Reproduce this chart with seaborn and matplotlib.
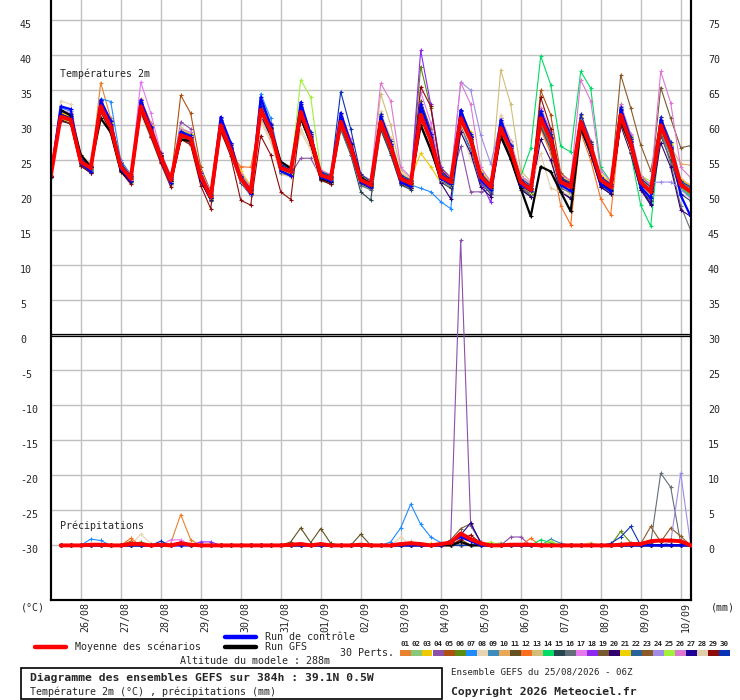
import numpy as np
import pandas as pd
import matplotlib
matplotlib.use("Agg")
import matplotlib.pyplot as plt
import seaborn as sns
from matplotlib.lines import Line2D
from matplotlib.patches import Rectangle

# ---------------- data ----------------
times = pd.date_range("2026-08-25 06:00", periods=65, freq="6h")
day_ticks = pd.date_range("2026-08-26", periods=16, freq="D")
day_labels = ["26/08", "27/08", "28/08", "29/08", "30/08", "31/08", "01/09", "02/09",
              "03/09", "04/09", "05/09", "06/09", "07/09", "08/09", "09/09", "10/09"]

y_ticks = [45, 40, 35, 30, 25, 20, 15, 10, 5, 0, -5, -10, -15, -20, -25, -30]
right_ticks = [75, 70, 65, 60, 55, 50, 45, 40, 35, 30, 25, 20, 15, 10, 5, 0]

member_colors = ["#e8822e", "#88c878", "#f0c800", "#8c50a8", "#b05010", "#5a8c10", "#1e8cff",
                 "#e8d4b0", "#3c8cbe", "#e8a85a", "#645020", "#fa6e1e", "#d2be78", "#00dc64",
                 "#284650", "#646e78", "#e678f0", "#8c28f0", "#785a32", "#32006e", "#f0d200",
                 "#28649a", "#8c5a28", "#a08ce6", "#a0f03c", "#dc78d2", "#1e0096", "#e1cdaa",
                 "#8c0a0a", "#0a32b4"]

mean_t = [22.7, 31.2, 30.8, 24.8, 23.9, 32.7, 29.8, 24.1, 22.4, 32.7, 29.3, 25.5, 22.2, 28.6, 28.1, 22.7, 19.8,
          30.0, 26.5, 22.4, 20.5, 32.2, 29.3, 23.9, 23.4, 31.9, 28.1, 22.9, 22.4, 30.5, 26.9, 22.2, 21.5,
          30.5, 26.9, 22.4, 21.7, 31.5, 27.9, 22.7, 21.9, 31.0, 27.9, 22.7, 21.2, 29.6, 26.5, 21.9, 20.8,
          31.0, 27.9, 21.9, 21.2, 30.5, 26.9, 22.2, 21.2, 31.5, 27.4, 21.9, 20.5, 30.0, 26.5, 21.5, 20.5]
control_t = [22.7, 32.7, 32.3, 24.6, 23.4, 33.6, 30.6, 23.8, 22.0, 33.6, 29.8, 25.2, 21.8, 29.0, 28.4, 22.3, 19.6,
             31.2, 27.5, 22.3, 20.2, 34.0, 30.0, 23.5, 22.8, 33.3, 28.7, 22.6, 22.0, 31.8, 27.5, 21.9, 21.2,
             31.3, 27.3, 21.9, 21.3, 33.0, 28.8, 22.4, 21.6, 32.2, 28.5, 22.2, 20.8, 30.8, 27.0, 21.5, 20.6,
             32.0, 28.2, 21.5, 20.6, 30.4, 26.8, 21.6, 20.6, 32.4, 27.8, 21.2, 19.6, 30.8, 26.9, 20.0, 17.0]
gfs_t = [22.6, 32.2, 31.4, 25.8, 24.1, 31.0, 29.0, 23.5, 22.0, 32.4, 29.4, 25.6, 22.0, 28.0, 27.8, 22.2, 19.6,
         29.6, 26.5, 22.3, 20.4, 32.0, 29.6, 24.8, 23.9, 31.0, 27.6, 22.4, 21.9, 30.6, 27.4, 22.6, 21.6,
         30.6, 27.0, 22.4, 21.8, 30.0, 26.5, 22.5, 21.6, 30.8, 28.0, 22.8, 21.0, 28.5, 25.2, 21.0, 17.0,
         24.1, 23.4, 20.5, 17.7, 29.6, 26.4, 21.6, 20.8, 30.6, 27.0, 21.6, 20.6, 30.0, 26.6, 21.4, 20.6]

t01 = [22.6, 31.5, 30.9, 24.5, 23.6, 36.1, 31.0, 24.8, 22.9, 33.0, 29.8, 25.0, 22.0, 28.0, 27.5, 22.3, 19.5,
       29.5, 26.0, 22.8, 20.8, 31.5, 28.5, 23.5, 22.8, 31.0, 27.5, 22.5, 21.8, 31.0, 27.5, 22.6, 21.8,
       29.8, 26.2, 22.0, 21.2, 32.5, 28.6, 23.2, 22.2, 30.2, 27.0, 22.2, 20.8, 30.5, 27.2, 22.8, 21.5,
       30.0, 27.0, 21.2, 20.2, 31.5, 27.8, 22.8, 21.8, 30.5, 26.5, 21.2, 19.8, 29.0, 25.8, 21.0, 20.0]
t02 = [22.8, 30.8, 30.2, 24.2, 23.2, 32.0, 29.0, 23.6, 21.8, 32.2, 28.6, 25.0, 21.5, 29.0, 28.5, 23.0, 20.3,
       30.8, 27.2, 22.8, 20.9, 31.5, 28.8, 23.2, 22.6, 32.8, 29.0, 23.4, 22.8, 29.8, 26.2, 21.6, 20.8,
       31.2, 27.5, 22.9, 22.3, 30.8, 27.2, 22.2, 21.5, 31.8, 28.6, 23.2, 21.8, 28.8, 25.8, 21.4, 20.2,
       31.8, 28.6, 22.4, 21.8, 29.8, 26.2, 21.6, 20.5, 32.2, 28.0, 22.4, 21.0, 30.8, 27.2, 22.0, 21.2]
t03 = [22.7, 31.6, 31.3, 25.2, 24.2, 33.2, 30.5, 24.6, 22.8, 33.5, 30.2, 26.0, 22.8, 29.5, 28.8, 23.3, 20.6,
       30.6, 27.4, 23.5, 21.4, 33.0, 30.2, 24.5, 23.8, 32.5, 28.6, 23.2, 22.6, 31.6, 27.8, 22.9, 22.1,
       31.5, 27.8, 23.0, 22.4, 26.0, 24.1, 21.8, 21.4, 32.2, 29.0, 23.6, 22.0, 31.0, 27.6, 22.5, 21.5,
       32.0, 28.8, 22.6, 21.9, 31.2, 27.6, 22.8, 21.8, 32.5, 28.2, 22.5, 21.2, 31.2, 27.5, 22.2, 21.4]
t04 = [22.6, 31.0, 30.6, 24.6, 23.8, 32.4, 29.4, 23.8, 22.2, 32.5, 29.0, 25.3, 22.0, 30.5, 29.5, 23.4, 20.0,
       29.6, 26.2, 22.2, 20.2, 32.6, 29.6, 24.3, 23.0, 25.3, 25.3, 22.6, 21.8, 30.0, 26.5, 22.0, 21.2,
       30.2, 26.6, 22.2, 21.4, 32.0, 28.4, 23.0, 22.0, 27.0, 20.5, 20.5, 20.8, 29.0, 26.0, 21.5, 20.2,
       30.4, 27.4, 21.5, 20.8, 30.0, 26.5, 21.8, 20.8, 31.0, 27.0, 21.5, 20.2, 29.4, 26.0, 21.2, 20.3]
t05 = [22.8, 31.8, 31.5, 25.5, 24.5, 33.5, 30.8, 24.8, 23.0, 32.0, 28.5, 24.8, 21.8, 34.3, 31.7, 24.0, 20.6,
       31.0, 27.5, 23.0, 21.0, 31.8, 28.8, 23.6, 23.2, 32.0, 28.2, 23.0, 22.5, 30.8, 27.2, 22.4, 21.8,
       29.5, 26.0, 21.6, 21.0, 31.0, 27.2, 22.4, 21.6, 30.5, 27.2, 22.4, 21.0, 28.5, 25.5, 21.2, 20.2,
       35.0, 31.5, 23.2, 22.0, 30.8, 27.2, 22.4, 21.4, 31.8, 27.8, 22.2, 20.8, 30.5, 27.0, 21.9, 20.9]
t06 = [22.7, 31.3, 30.9, 25.0, 24.0, 32.8, 29.9, 24.2, 22.5, 32.9, 29.4, 25.6, 22.3, 28.2, 27.8, 22.5, 19.6,
       30.2, 26.8, 22.6, 20.6, 32.0, 29.0, 23.8, 23.3, 31.5, 27.8, 22.7, 22.2, 31.0, 27.4, 22.5, 21.9,
       30.8, 27.2, 22.6, 21.9, 38.4, 32.5, 24.0, 22.6, 31.5, 28.4, 23.0, 21.4, 29.2, 26.2, 21.7, 20.6,
       30.6, 27.4, 21.6, 21.0, 30.2, 26.7, 22.0, 21.0, 32.0, 27.8, 22.1, 20.7, 30.4, 26.8, 21.7, 20.7]
t07 = [22.8, 32.5, 32.0, 25.3, 24.2, 33.8, 33.4, 25.0, 23.0, 33.0, 29.8, 25.6, 22.5, 29.2, 28.6, 23.2, 20.2,
       31.0, 27.4, 22.8, 20.8, 34.5, 31.0, 24.6, 23.8, 32.6, 28.8, 23.3, 22.8, 31.4, 27.6, 22.6, 21.8,
       31.0, 27.4, 22.5, 21.5, 21.0, 20.5, 19.1, 18.1, 29.5, 26.5, 22.0, 20.6, 30.0, 26.8, 22.0, 20.9,
       31.4, 28.2, 22.2, 21.4, 29.6, 26.0, 21.5, 20.8, 30.8, 26.8, 21.6, 20.0, 29.6, 26.2, 21.3, 20.3]
t08 = [22.9, 33.5, 33.0, 25.8, 24.6, 31.8, 28.8, 23.6, 22.0, 32.0, 28.6, 24.8, 21.6, 29.8, 28.8, 23.0, 20.0,
       29.2, 25.8, 22.0, 20.0, 30.5, 27.6, 23.0, 22.6, 29.0, 26.5, 22.0, 21.6, 29.8, 26.2, 21.8, 21.0,
       31.8, 28.0, 23.2, 22.5, 30.2, 26.8, 22.0, 21.2, 30.0, 25.0, 23.5, 21.8, 31.5, 27.8, 22.8, 21.6,
       29.5, 26.5, 21.0, 20.4, 31.0, 27.3, 22.5, 21.6, 30.2, 26.2, 21.0, 19.6, 30.2, 26.6, 21.8, 21.0]
t09 = [22.6, 30.9, 30.4, 24.4, 23.5, 32.2, 29.2, 23.8, 22.1, 32.2, 28.8, 25.2, 22.0, 28.4, 27.8, 22.4, 19.4,
       29.6, 26.2, 22.1, 20.2, 31.6, 28.8, 23.6, 23.0, 31.0, 27.4, 22.4, 21.9, 29.8, 26.3, 21.8, 21.0,
       29.6, 26.0, 21.8, 21.0, 30.5, 27.0, 22.2, 21.4, 30.4, 27.2, 22.2, 20.5, 28.5, 25.5, 21.2, 20.0,
       30.0, 27.0, 21.4, 20.6, 29.8, 26.2, 21.6, 20.6, 30.6, 26.6, 21.4, 19.8, 29.0, 25.6, 20.8, 19.8]
t10 = [22.7, 31.2, 30.8, 24.9, 23.9, 33.0, 30.2, 24.4, 22.6, 33.2, 29.6, 25.8, 22.4, 29.2, 28.5, 22.9, 20.0,
       30.4, 26.9, 22.6, 20.8, 32.5, 29.6, 24.1, 23.6, 32.3, 28.5, 23.1, 22.6, 30.8, 27.2, 22.4, 21.7,
       30.9, 27.3, 22.6, 21.9, 31.8, 28.2, 22.9, 22.1, 31.3, 28.2, 22.9, 21.4, 29.9, 26.8, 22.1, 21.0,
       31.3, 28.2, 22.1, 21.4, 30.8, 27.2, 22.4, 21.4, 31.8, 27.7, 22.1, 20.7, 30.3, 27.0, 24.5, 24.3]
t11 = [22.7, 31.1, 30.6, 24.6, 23.7, 32.5, 29.6, 24.0, 22.3, 32.4, 29.0, 25.2, 22.0, 28.6, 28.0, 22.6, 19.7,
       29.8, 26.3, 22.3, 20.4, 32.0, 29.0, 23.8, 23.2, 31.6, 27.8, 22.6, 22.1, 30.2, 26.6, 22.0, 21.3,
       30.0, 26.4, 22.0, 21.3, 33.5, 29.5, 23.4, 22.4, 30.6, 27.4, 22.4, 20.9, 29.0, 26.0, 21.6, 20.5,
       30.5, 27.4, 21.6, 20.9, 30.0, 26.4, 21.8, 20.9, 30.8, 26.9, 21.6, 20.1, 29.5, 26.1, 21.2, 20.1]
t12 = [22.7, 31.4, 31.0, 25.0, 24.0, 33.5, 30.6, 24.4, 22.6, 33.8, 30.4, 26.0, 22.6, 28.8, 28.3, 23.0, 20.2,
       29.0, 26.0, 24.1, 24.0, 31.0, 28.2, 23.4, 22.8, 31.2, 27.6, 22.4, 21.9, 30.0, 26.5, 22.0, 21.2,
       30.6, 27.0, 22.2, 21.5, 31.2, 27.6, 22.5, 21.6, 30.8, 27.6, 22.3, 20.8, 29.0, 26.0, 21.2, 20.4,
       29.5, 26.0, 18.5, 15.8, 29.0, 25.0, 19.5, 17.2, 30.8, 27.0, 21.8, 20.4, 29.8, 26.4, 21.4, 20.5]
t13 = [22.8, 32.0, 31.5, 25.4, 24.3, 32.8, 29.8, 24.0, 22.3, 33.2, 29.6, 25.6, 22.2, 28.5, 28.0, 22.6, 19.8,
       30.2, 26.8, 22.6, 20.7, 32.4, 29.5, 24.0, 23.4, 31.8, 28.0, 22.9, 22.3, 30.4, 26.8, 22.1, 21.4,
       34.5, 30.0, 23.6, 22.6, 31.2, 27.6, 22.6, 21.8, 31.2, 28.0, 22.8, 21.4, 37.9, 33.0, 23.5, 22.0,
       31.6, 28.4, 22.4, 21.6, 30.6, 27.0, 22.4, 21.4, 31.2, 27.2, 21.8, 20.5, 30.0, 26.5, 21.6, 20.6]
t14 = [22.7, 31.0, 30.6, 24.7, 23.8, 32.6, 29.6, 24.0, 22.3, 32.6, 29.1, 25.4, 22.1, 28.4, 27.9, 22.5, 19.6,
       30.0, 26.5, 22.3, 20.4, 32.2, 29.2, 23.8, 23.3, 31.6, 27.9, 22.8, 22.3, 30.6, 27.0, 22.2, 21.5,
       30.4, 26.8, 22.3, 21.6, 31.8, 28.1, 22.8, 22.0, 31.0, 27.8, 22.6, 21.0, 29.0, 26.0, 22.7, 26.7,
       39.9, 35.8, 27.0, 26.2, 37.7, 35.3, 24.0, 22.0, 31.0, 26.0, 18.6, 15.6, 29.5, 26.0, 21.0, 20.0]
t15 = [22.6, 30.6, 30.2, 24.2, 23.2, 32.0, 29.0, 23.5, 21.9, 31.8, 28.4, 24.8, 21.6, 28.0, 27.5, 22.0, 19.2,
       29.4, 25.9, 21.8, 20.0, 31.4, 28.4, 23.2, 22.8, 31.2, 27.4, 22.2, 21.6, 29.6, 25.8, 20.5, 19.3,
       29.4, 25.8, 21.5, 20.8, 30.6, 27.0, 21.9, 21.0, 30.0, 26.8, 21.8, 20.2, 28.6, 25.4, 21.0, 19.8,
       29.8, 26.6, 20.6, 19.6, 29.6, 25.8, 21.2, 20.2, 30.2, 26.2, 20.8, 19.2, 28.5, 25.0, 20.2, 19.2]
t16 = [22.6, 30.8, 30.4, 24.5, 23.5, 32.2, 29.3, 23.7, 22.0, 32.2, 28.7, 25.0, 21.8, 28.2, 27.6, 22.2, 19.4,
       29.6, 26.1, 22.0, 20.1, 31.6, 28.6, 23.4, 23.0, 31.0, 27.2, 22.2, 21.7, 29.4, 25.8, 21.4, 20.8,
       29.8, 26.2, 21.8, 21.0, 30.8, 27.2, 22.1, 21.3, 30.2, 27.0, 22.0, 20.4, 28.8, 25.6, 21.2, 20.0,
       30.2, 27.0, 21.0, 20.4, 29.6, 26.0, 21.4, 20.4, 30.4, 26.4, 20.8, 19.4, 29.0, 24.5, 18.5, 15.0]
t17 = [22.8, 32.2, 31.8, 25.4, 24.4, 33.4, 30.6, 24.6, 22.8, 36.2, 31.8, 26.2, 22.8, 29.2, 28.6, 23.2, 20.4,
       30.8, 27.2, 23.0, 21.0, 33.2, 30.2, 24.4, 23.8, 32.4, 28.6, 23.2, 22.6, 31.2, 27.6, 22.6, 21.8,
       31.6, 28.0, 22.9, 22.2, 34.8, 30.4, 23.6, 22.6, 32.0, 28.8, 23.2, 21.8, 30.6, 27.4, 22.4, 21.4,
       32.2, 29.0, 22.6, 21.8, 31.6, 27.8, 22.8, 21.8, 32.8, 28.6, 22.6, 21.2, 31.2, 27.6, 22.4, 21.4]
t18 = [22.7, 31.3, 30.9, 24.9, 24.0, 32.9, 30.0, 24.2, 22.5, 33.0, 29.5, 25.6, 22.3, 28.8, 28.3, 22.8, 19.9,
       30.2, 26.7, 22.5, 20.6, 32.5, 29.5, 24.0, 23.5, 32.2, 28.3, 23.0, 22.5, 30.8, 27.1, 22.3, 21.6,
       31.0, 27.3, 22.5, 21.8, 40.7, 33.0, 24.0, 22.4, 31.6, 28.5, 22.0, 19.0, 30.0, 26.9, 22.1, 21.0,
       31.2, 28.1, 22.0, 21.3, 30.8, 27.1, 22.3, 21.3, 31.8, 27.6, 22.0, 20.6, 30.2, 26.7, 21.6, 20.6]
t19 = [22.7, 31.5, 31.0, 25.0, 24.1, 33.0, 30.1, 24.3, 22.6, 33.1, 29.7, 25.8, 22.5, 29.0, 28.5, 23.0, 20.1,
       30.4, 26.9, 22.7, 20.8, 32.6, 29.6, 24.2, 23.6, 32.2, 28.4, 23.1, 22.6, 31.0, 27.3, 22.5, 21.8,
       31.0, 27.4, 22.7, 22.0, 32.0, 28.3, 23.0, 22.2, 31.4, 28.3, 23.0, 21.5, 30.0, 26.9, 22.2, 21.1,
       31.5, 28.3, 22.3, 21.5, 31.0, 27.3, 22.5, 21.5, 32.0, 28.0, 22.8, 21.5, 35.4, 31.0, 26.8, 27.1]
t20 = [22.6, 30.7, 30.3, 24.3, 23.4, 32.1, 29.1, 23.6, 22.0, 32.0, 28.5, 24.9, 21.7, 28.1, 27.6, 22.1, 19.3,
       29.5, 26.0, 21.9, 20.1, 31.5, 28.5, 23.3, 22.9, 31.2, 27.5, 22.3, 21.8, 29.9, 26.3, 21.7, 21.0,
       29.9, 26.3, 21.8, 21.1, 30.4, 26.8, 21.8, 19.5, 29.0, 26.0, 21.2, 19.8, 28.2, 25.2, 20.8, 19.8,
       28.0, 25.0, 20.5, 19.5, 29.4, 25.8, 21.2, 20.2, 30.0, 26.0, 20.8, 18.6, 27.5, 24.0, 17.9, 17.0]
t21 = [22.8, 31.8, 31.4, 25.3, 24.3, 33.3, 30.4, 24.6, 22.9, 33.4, 30.0, 26.0, 22.7, 29.4, 28.8, 23.4, 20.4,
       30.7, 27.2, 23.0, 21.1, 32.9, 30.0, 24.4, 23.9, 32.6, 28.8, 23.4, 22.9, 31.3, 27.7, 22.8, 22.0,
       31.4, 27.8, 22.9, 22.2, 32.4, 28.8, 23.3, 22.5, 31.8, 28.8, 23.3, 21.8, 30.6, 27.4, 22.5, 21.6,
       31.8, 28.6, 22.6, 22.0, 31.2, 27.6, 22.9, 21.9, 32.3, 28.2, 22.6, 21.3, 30.8, 27.3, 22.3, 21.4]
t22 = [22.6, 31.0, 30.5, 24.6, 23.6, 32.5, 29.5, 23.9, 22.2, 32.5, 29.0, 25.3, 22.0, 28.4, 27.9, 22.5, 19.6,
       29.8, 26.3, 22.2, 20.3, 32.0, 29.0, 23.7, 23.2, 31.7, 27.9, 22.7, 22.2, 30.3, 26.7, 22.0, 21.3,
       30.2, 26.6, 22.1, 21.4, 31.2, 27.6, 22.4, 21.6, 30.7, 27.6, 22.4, 20.9, 29.3, 26.2, 21.6, 20.5,
       30.7, 27.6, 21.6, 20.9, 30.2, 26.6, 21.9, 20.9, 31.2, 27.1, 21.6, 20.2, 29.7, 26.2, 21.2, 20.2]
t23 = [22.7, 31.4, 30.9, 24.9, 24.0, 32.8, 29.9, 24.2, 22.5, 32.8, 29.4, 25.6, 22.3, 28.7, 28.2, 22.8, 19.9,
       30.1, 26.6, 22.5, 20.6, 32.3, 29.4, 24.0, 23.5, 32.0, 28.2, 23.0, 22.5, 30.6, 27.0, 22.3, 21.6,
       30.6, 27.0, 22.5, 21.8, 31.6, 28.0, 22.8, 22.0, 31.1, 28.0, 22.8, 21.3, 29.7, 26.6, 22.0, 20.9,
       31.1, 28.0, 22.0, 21.3, 30.6, 27.0, 22.3, 21.3, 37.2, 32.5, 27.2, 23.5, 30.5, 27.0, 22.0, 21.0]
t24 = [22.7, 31.4, 31.0, 24.9, 24.0, 32.5, 29.6, 24.0, 22.3, 32.9, 29.5, 25.6, 22.3, 28.9, 28.4, 22.9, 20.0,
       30.3, 26.8, 22.5, 20.6, 32.0, 29.1, 23.8, 23.3, 32.1, 28.3, 23.0, 22.5, 30.7, 27.1, 22.3, 21.6,
       30.9, 27.3, 22.6, 21.9, 32.2, 28.6, 23.2, 22.2, 36.2, 35.0, 28.6, 24.5, 30.5, 27.4, 22.6, 21.5,
       31.6, 28.4, 22.3, 21.6, 31.0, 27.4, 22.6, 21.6, 30.6, 26.6, 22.0, 21.8, 21.9, 21.9, 21.0, 19.5]
t25 = [22.7, 30.9, 30.4, 24.4, 23.4, 32.3, 29.3, 23.7, 22.1, 32.3, 28.9, 25.1, 21.9, 28.2, 27.7, 22.3, 19.5,
       29.7, 26.2, 22.1, 20.3, 31.8, 28.9, 23.6, 23.1, 36.5, 34.0, 23.6, 22.8, 30.0, 26.5, 21.9, 21.2,
       30.0, 26.5, 22.0, 21.3, 31.0, 27.5, 22.3, 21.5, 30.5, 27.5, 22.3, 20.8, 29.1, 26.1, 21.5, 20.4,
       30.5, 27.5, 21.5, 20.8, 30.0, 26.5, 21.8, 20.8, 33.0, 28.5, 22.8, 22.0, 29.5, 26.0, 21.2, 20.2]
t26 = [22.8, 32.0, 31.6, 25.3, 24.3, 33.5, 30.6, 24.7, 22.9, 33.6, 30.2, 26.1, 22.8, 29.5, 29.0, 23.4, 20.5,
       31.0, 27.4, 23.1, 21.2, 33.2, 30.3, 24.5, 24.0, 33.0, 29.0, 23.6, 23.0, 31.8, 28.0, 23.0, 22.2,
       36.0, 33.5, 24.0, 22.6, 32.8, 29.0, 23.4, 22.5, 36.1, 33.0, 24.0, 22.0, 31.0, 27.8, 22.8, 21.8,
       32.5, 29.2, 22.8, 22.2, 36.5, 33.5, 23.5, 22.0, 33.0, 28.8, 22.8, 21.5, 37.7, 33.2, 24.0, 22.5]
t27 = [22.7, 31.6, 31.1, 25.1, 24.1, 33.1, 30.2, 24.4, 22.7, 33.0, 29.6, 25.8, 22.4, 29.0, 28.4, 23.0, 20.0,
       30.3, 26.8, 22.6, 20.8, 32.7, 29.7, 24.2, 23.6, 32.3, 28.5, 23.2, 22.6, 31.0, 27.3, 22.5, 21.8,
       31.0, 27.4, 22.7, 22.0, 32.2, 28.4, 23.0, 22.2, 31.5, 28.4, 23.0, 21.5, 30.1, 27.0, 22.2, 21.1,
       31.6, 28.4, 22.3, 21.6, 31.1, 27.3, 22.6, 21.6, 32.2, 28.0, 21.0, 18.8, 30.6, 27.0, 21.9, 20.6]
t28 = [22.8, 32.8, 32.4, 25.6, 24.5, 32.0, 29.0, 23.8, 22.2, 31.5, 28.2, 24.6, 21.5, 29.4, 28.5, 23.0, 20.2,
       29.4, 25.9, 22.0, 20.0, 31.0, 28.0, 23.3, 22.8, 29.5, 26.8, 22.2, 21.8, 30.2, 26.6, 22.0, 21.2,
       32.0, 28.2, 23.2, 22.4, 30.6, 27.2, 22.2, 21.6, 30.2, 27.0, 22.4, 21.0, 31.2, 27.6, 22.6, 21.4,
       26.0, 21.0, 20.5, 20.0, 30.8, 27.0, 22.2, 21.2, 30.4, 26.4, 21.4, 20.0, 30.6, 27.0, 22.0, 21.2]
t29 = [22.6, 30.8, 30.2, 24.2, 23.2, 32.0, 29.0, 23.4, 21.6, 32.0, 28.4, 24.6, 21.2, 28.0, 27.2, 21.4, 18.1,
       29.2, 25.6, 19.3, 18.6, 28.5, 25.8, 20.5, 19.4, 31.0, 27.2, 22.2, 21.6, 30.2, 26.6, 22.0, 21.3,
       30.4, 26.8, 22.2, 21.6, 35.5, 32.7, 23.6, 22.2, 31.4, 28.3, 22.9, 21.4, 29.8, 26.7, 22.0, 20.9,
       34.0, 29.5, 22.6, 21.5, 30.6, 27.0, 22.3, 21.3, 31.6, 27.6, 22.0, 20.5, 30.2, 26.7, 21.6, 20.6]
t30 = [22.7, 32.0, 31.6, 25.2, 24.2, 33.6, 30.6, 24.6, 22.8, 33.4, 29.9, 26.0, 22.6, 29.2, 28.6, 23.2, 20.2,
       30.8, 27.2, 22.8, 20.9, 33.2, 30.2, 24.4, 23.8, 33.0, 29.0, 23.4, 22.8, 34.8, 29.5, 23.0, 22.0,
       31.6, 27.8, 22.9, 22.2, 32.6, 28.8, 23.2, 22.4, 32.0, 28.8, 23.2, 21.6, 30.4, 27.2, 22.4, 21.4,
       32.0, 28.8, 22.5, 21.8, 31.6, 27.6, 22.6, 21.6, 32.6, 28.4, 22.4, 21.2, 31.2, 27.6, 22.0, 21.2]
members_t = [t01, t02, t03, t04, t05, t06, t07, t08, t09, t10, t11, t12, t13, t14, t15,
             t16, t17, t18, t19, t20, t21, t22, t23, t24, t25, t26, t27, t28, t29, t30]

# precipitation (mm per 6 h), non-zero steps only (step 1..64)
p01 = {12: 0.3, 13: 4.4, 14: 0.8, 49: 0.3}
p02 = {9: 0.3, 45: 0.4}
p03 = {8: 0.2, 36: 0.3}
p04 = {40: 0.8, 41: 43.6, 42: 2.8, 43: 0.5, 46: 1.2, 47: 1.2}
p05 = {8: 0.6, 13: 0.3, 41: 0.9}
p06 = {9: 0.5, 50: 0.5, 57: 2.0, 58: 0.4}
p07 = {4: 0.9, 5: 0.7, 34: 0.5, 35: 2.5, 36: 5.9, 37: 3.0, 38: 1.2, 39: 0.4}
p08 = {9: 1.6, 10: 0.3, 35: 1.2}
p09 = {50: 0.9, 51: 0.3}
p10 = {8: 0.4, 13: 0.3}
p11 = {24: 0.5, 25: 2.5, 26: 0.4, 27: 2.4, 28: 0.3, 31: 1.6}
p12 = {8: 1.0, 48: 1.0}
p13 = {36: 0.6, 54: 0.4}
p14 = {49: 0.8, 50: 0.4}
p15 = {40: 0.6}
p16 = {60: 0.3, 61: 10.3, 62: 8.3, 63: 0.3}
p17 = {12: 0.8, 13: 0.8}
p18 = {15: 0.5, 16: 0.5}
p19 = {40: 0.8, 41: 2.4, 42: 3.1, 43: 0.4}
p20 = {}
p21 = {38: 0.3}
p22 = {57: 0.3}
p23 = {59: 0.2, 60: 2.7, 61: 0.5, 62: 2.5, 63: 1.3}
p24 = {62: 0.5, 63: 10.3}
p25 = {44: 0.5, 50: 0.6}
p26 = {}
p27 = {40: 0.5, 41: 1.5, 42: 3.2, 43: 0.4}
p28 = {}
p29 = {41: 0.8, 42: 1.5, 43: 0.3}
p30 = {11: 0.6, 56: 0.3, 57: 1.2, 58: 2.7}
members_p = [p01, p02, p03, p04, p05, p06, p07, p08, p09, p10, p11, p12, p13, p14, p15,
             p16, p17, p18, p19, p20, p21, p22, p23, p24, p25, p26, p27, p28, p29, p30]
control_p = {40: 0.5, 41: 1.2, 42: 0.6}
gfs_p = {13: 0.4, 41: 0.5}
mean_p = {4: 0.1, 5: 0.1, 8: 0.2, 9: 0.2, 11: 0.1, 13: 0.3, 14: 0.1, 24: 0.1, 25: 0.2, 27: 0.2,
          31: 0.1, 35: 0.2, 36: 0.3, 37: 0.2, 39: 0.2, 40: 0.4, 41: 1.7, 42: 0.9, 43: 0.3,
          46: 0.1, 47: 0.1, 48: 0.1, 57: 0.1, 58: 0.2, 59: 0.2, 60: 0.6, 61: 0.7, 62: 0.7, 63: 0.6}


def expand(d):
    arr = np.zeros(len(times) - 1)
    for k, v in d.items():
        arr[k - 1] = v
    return arr


# ---------------- figure ----------------
sns.set_theme(style="white")
plt.rcParams["font.family"] = ["DejaVu Sans Mono", "DejaVu Sans"]
FS = 7.2

W, H = 740.0, 700.0
fig = plt.figure(figsize=(W / 100, H / 100), dpi=100)
ax = fig.add_axes([50.7 / W, 1 - 600 / H, 640 / W, 600 / H])
ylim = (-37.8, 47.9)
ax.set_ylim(*ylim)
ax.set_xlim(times[0], times[-1])

ax2 = ax.twinx()
ax2.set_ylim(ylim[0] + 30, ylim[1] + 30)

# grid
ax.set_yticks(y_ticks)
ax.set_yticklabels([str(v) for v in y_ticks])
ax.set_xticks(day_ticks)
ax.set_xticklabels(day_labels, rotation=90)
ax.grid(True, color="#c0c0c0", lw=1.0)
ax.set_axisbelow(True)
ax.tick_params(axis="y", length=0, pad=22.1, labelsize=FS)
plt.setp(ax.get_yticklabels(), ha="left", va="top")
ax.tick_params(axis="x", length=0, pad=1.5, labelsize=FS)
plt.setp(ax.get_xticklabels(), ha="left", va="top")

ax2.set_yticks(right_ticks)
ax2.set_yticklabels([str(v) for v in right_ticks])
ax2.grid(False)
ax2.tick_params(axis="y", length=0, pad=12.5, labelsize=FS)
plt.setp(ax2.get_yticklabels(), ha="left", va="top")

for a in (ax, ax2):
    a.spines["top"].set_visible(False)
    for s in ("left", "right", "bottom"):
        a.spines[s].set_color("black")
        a.spines[s].set_linewidth(1.5)

# separator double line
ax.axhline(0.16, color="black", lw=0.9, zorder=6)
ax.axhline(-0.16, color="black", lw=0.9, zorder=6)


def draw(a, x, y, color, lw, z, ms=3.5):
    sns.lineplot(x=x, y=y, color=color, lw=lw, marker="+", markersize=ms,
                 markeredgewidth=0.8, markeredgecolor=color, estimator=None,
                 sort=False, legend=False, ax=a, zorder=z)


# temperatures
for t, c in zip(members_t, member_colors):
    draw(ax, times, t, c, 0.8, 2)
draw(ax, times, gfs_t, "black", 1.6, 3)
draw(ax, times, control_t, "#0000ff", 1.6, 4)
draw(ax, times, mean_t, "#ff0000", 2.8, 5)

# precipitation (on the right-hand mm scale)
ptimes = times[1:]
for p, c in zip(members_p, member_colors):
    draw(ax2, ptimes, expand(p), c, 0.8, 2)
draw(ax2, ptimes, expand(gfs_p), "black", 1.6, 3)
draw(ax2, ptimes, expand(control_p), "#0000ff", 1.6, 4)
draw(ax2, ptimes, expand(mean_p), "#ff0000", 2.8, 5)
ax2.set_xlim(times[0], times[-1])
for a in (ax, ax2):
    a.set_xlabel("")
    a.set_ylabel("")

ax.text((60 - 50.7) / 640, 1 - 74 / 600, "Températures 2m", transform=ax.transAxes,
        fontsize=FS, va="center", ha="left", zorder=7)
ax.text((60 - 50.7) / 640, 1 - 526 / 600, "Précipitations", transform=ax.transAxes,
        fontsize=FS, va="center", ha="left", zorder=7)

# ---------------- legend / footer ----------------
def fx(px):
    return px / W


def fy(py):
    return 1 - py / H


fig.text(fx(21), fy(607), "(°C)", fontsize=FS, va="center", ha="left")
fig.text(fx(711), fy(607), "(mm)", fontsize=FS, va="center", ha="left")

fig.add_artist(Line2D([fx(35), fx(66)], [fy(647)] * 2, color="#ff0000", lw=3.2))
fig.text(fx(75), fy(647), "Moyenne des scénarios", fontsize=FS, va="center", ha="left")
fig.add_artist(Line2D([fx(225), fx(256)], [fy(637)] * 2, color="#0000ff", lw=3.2))
fig.text(fx(265), fy(637), "Run de contrôle", fontsize=FS, va="center", ha="left")
fig.add_artist(Line2D([fx(225), fx(256)], [fy(647)] * 2, color="black", lw=3.2))
fig.text(fx(265), fy(647), "Run GFS", fontsize=FS, va="center", ha="left")
fig.text(fx(340), fy(653), "30 Perts.", fontsize=FS, va="center", ha="left")
fig.text(fx(180), fy(661), "Altitude du modele : 288m", fontsize=FS, va="center", ha="left")

for k, c in enumerate(member_colors):
    x0 = 400 + 11 * k
    fig.add_artist(Rectangle((fx(x0), fy(656)), 10.5 / W, 6 / H, transform=fig.transFigure,
                             facecolor=c, edgecolor="none"))
    fig.text(fx(x0 + 5.25), fy(643.5), f"{k + 1:02d}", fontsize=5.4, fontweight="bold",
             va="center", ha="center")

fig.add_artist(Rectangle((fx(20.7), fy(699)), (442 - 20.7) / W, (699 - 667.7) / H,
                         transform=fig.transFigure, fill=False, edgecolor="black", lw=1.2))
fig.text(fx(30), fy(677.5), "Diagramme des ensembles GEFS sur 384h : 39.1N 0.5W",
         fontsize=8.2, fontweight="bold", va="center", ha="left")
fig.text(fx(30), fy(692), "Température 2m (°C) , précipitations (mm)",
         fontsize=FS, va="center", ha="left")
fig.text(fx(451), fy(672), "Ensemble GEFS du 25/08/2026 - 06Z", fontsize=6.6,
         va="center", ha="left")
fig.text(fx(451), fy(692), "Copyright 2026 Meteociel.fr", fontsize=8.2, fontweight="bold",
         va="center", ha="left")

fig.savefig("out.png", dpi=100)
